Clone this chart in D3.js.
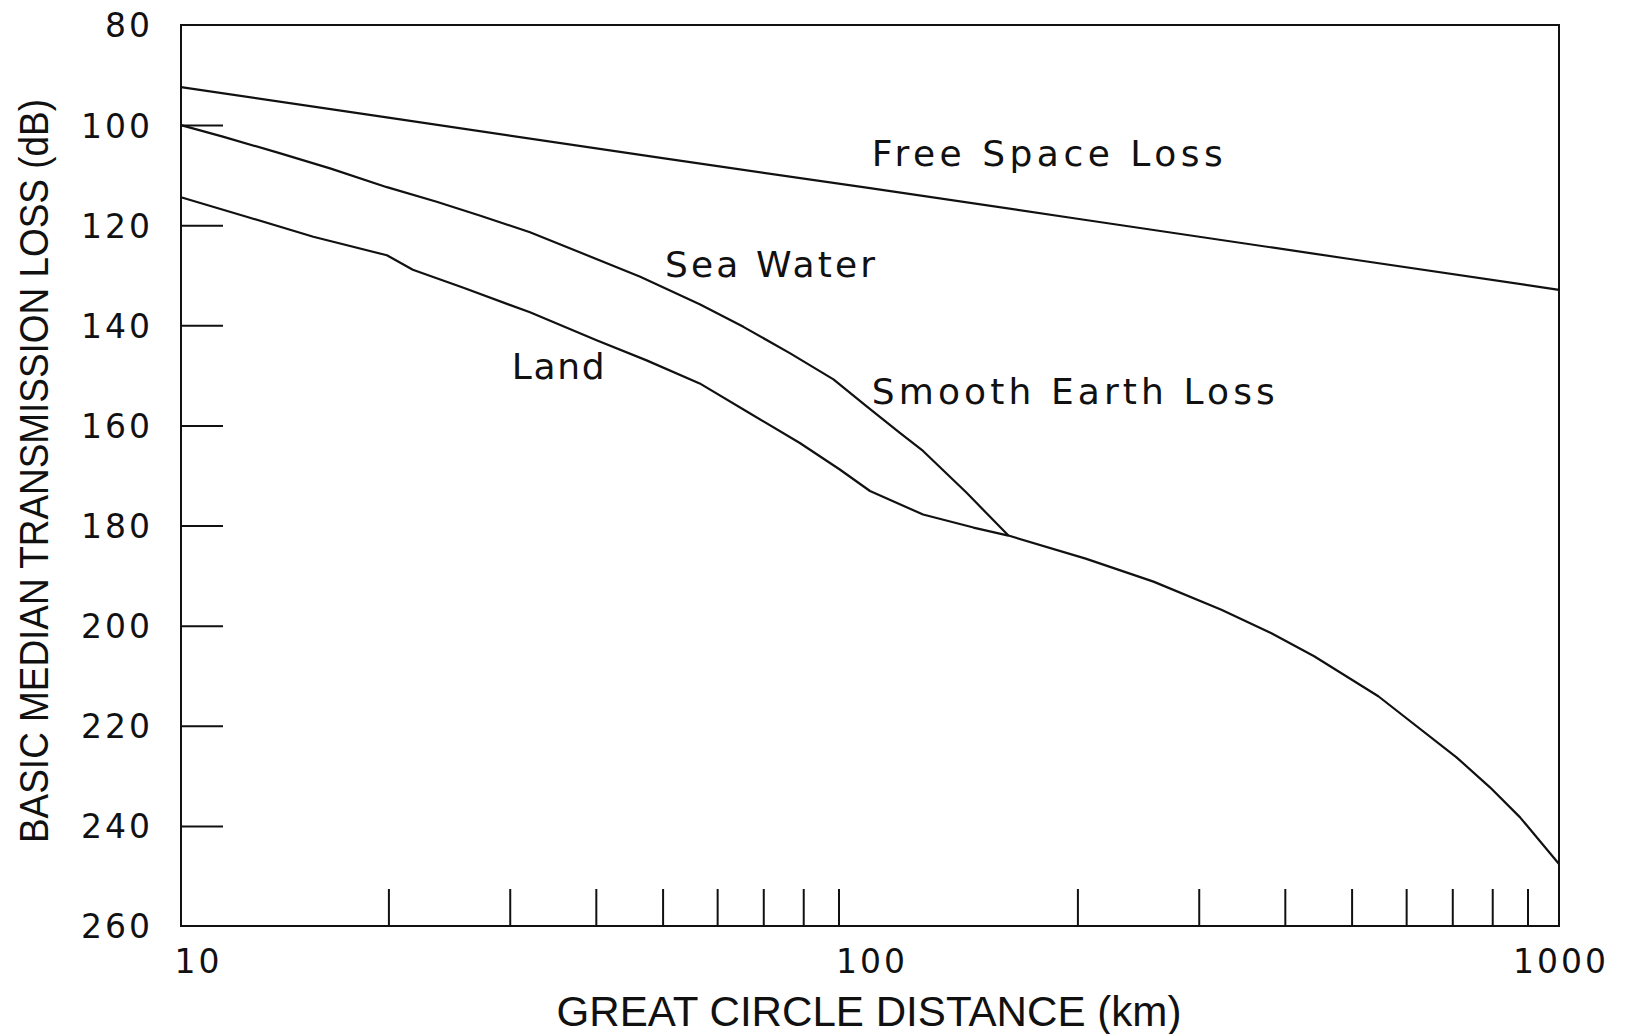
<!DOCTYPE html>
<html>
<head>
<meta charset="utf-8">
<script src="https://cdn.jsdelivr.net/npm/d3@7"></script>
<style>
  html, body { margin: 0; padding: 0; background: #fff; }
  svg { display: block; }
</style>
</head>
<body>
<svg id="chart" width="1626" height="1034"></svg>
<script>
// ---------------- data ----------------
const yTickValues = [80, 100, 120, 140, 160, 180, 200, 220, 240, 260];
const yInnerTicks = [100, 120, 140, 160, 180, 200, 220, 240];
const xLabelTicks = [10, 100, 1000];
const xMinorTicks = [20, 30, 40, 50, 60, 70, 80, 90, 200, 300, 400, 500, 600, 700, 800, 900];

const freeSpaceDist = [10, 20, 50, 100, 200, 500, 1000];
const freeSpaceLoss = [92.4, 98.5, 106.6, 112.6, 118.7, 126.8, 132.9];

const seaDist = [10, 11.5, 13.9, 16.5, 19.9, 23.5, 27.2, 32.1, 37.9, 46.4, 56.6, 65.5, 76.6, 88.5, 98.9, 110.5, 119.4, 138, 158.8];
const seaLoss = [100, 102.3, 105.6, 108.7, 112.4, 115.3, 118.1, 121.4, 125.4, 130.3, 135.8, 140.3, 145.6, 150.8, 156.2, 161.5, 165.1, 173.4, 182.0];

const landDist = [10, 12.45, 15.56, 19.9, 21.7, 25.7, 32.1, 40.1, 47.4, 56.6, 67, 79.1, 90.4, 100, 119.4, 141.3, 158.8, 205.6, 257.9, 323.6, 382.5, 441.2, 546.7, 710, 794, 878, 1000];
const landLoss = [114.4, 118.3, 122.3, 126.0, 128.9, 132.5, 137.4, 143.0, 147.0, 151.6, 157.6, 163.5, 168.8, 173.1, 177.8, 180.4, 182.0, 186.6, 191.2, 196.8, 201.5, 206.1, 214.1, 226.3, 232.3, 238.3, 247.6];

const curveLabels = ["Free Space Loss", "Sea Water", "Land", "Smooth Earth Loss"];
const curveLabelDist = [100.6, 50.4, 30.2, 100.6];
const curveLabelLoss = [108.2, 130.4, 150.75, 155.8];

const xTitle = "GREAT CIRCLE DISTANCE (km)";
const yTitle = "BASIC MEDIAN TRANSMISSION LOSS (dB)";

// ---------------- layout ----------------
const svg = d3.select("#chart");
const L = 181, R = 1559, T = 25, B = 926;

const x = d3.scaleLog().domain([10, 1000]).range([L, R]);
const y = d3.scaleLinear().domain([80, 260]).range([T, B]);

const ink = "#111";
const numFont = "DejaVu Sans, Verdana, sans-serif";

// frame
svg.append("rect")
  .attr("x", L).attr("y", T).attr("width", R - L).attr("height", B - T)
  .attr("fill", "none").attr("stroke", ink).attr("stroke-width", 2);

// y axis: ticks inward, labels outside
const yAxis = d3.axisLeft(y).tickValues(yTickValues).tickSize(0).tickPadding(0)
  .tickFormat(d3.format("d"));
const gy = svg.append("g").attr("transform", `translate(${L},0)`).call(yAxis);
gy.select(".domain").remove();
gy.selectAll("text")
  .attr("x", -28)
  .attr("dy", "0.36em")
  .attr("font-family", numFont).attr("font-size", 33)
  .attr("letter-spacing", 3)
  .attr("fill", ink);

const yTickAxis = d3.axisRight(y).tickValues(yInnerTicks).tickSize(42).tickFormat("");
const gyt = svg.append("g").attr("transform", `translate(${L},0)`).call(yTickAxis);
gyt.select(".domain").remove();
gyt.selectAll("line").attr("stroke", ink).attr("stroke-width", 2);

// x axis: labels
const xAxis = d3.axisBottom(x).tickValues(xLabelTicks).tickSize(0).tickPadding(0)
  .tickFormat(d3.format("d"));
const gx = svg.append("g").attr("transform", `translate(0,${B})`).call(xAxis);
gx.select(".domain").remove();
gx.selectAll("text")
  .attr("y", 47).attr("dy", 0)
  .attr("font-family", numFont).attr("font-size", 33)
  .attr("letter-spacing", 3)
  .attr("dx", (d, i) => (i === 0 ? 17 : 1.5))
  .attr("fill", ink);

// x axis minor ticks (upward)
const xTickAxis = d3.axisTop(x).tickValues(xMinorTicks).tickSize(37).tickFormat("");
const gxt = svg.append("g").attr("transform", `translate(0,${B})`).call(xTickAxis);
gxt.select(".domain").remove();
gxt.selectAll("line").attr("stroke", ink).attr("stroke-width", 2);

// curves
const line = d3.line().x(d => x(d[0])).y(d => y(d[1]));
const series = [
  d3.zip(freeSpaceDist, freeSpaceLoss),
  d3.zip(seaDist, seaLoss),
  d3.zip(landDist, landLoss)
];
svg.append("g").selectAll("path").data(series).join("path")
  .attr("d", line)
  .attr("fill", "none")
  .attr("stroke", ink)
  .attr("stroke-width", 2.2)
  .attr("stroke-linejoin", "round");

// curve labels
const labelLengths = [351, 210, 93, 403];
svg.append("g").selectAll("text").data(curveLabels).join("text")
  .attr("x", (d, i) => x(curveLabelDist[i]))
  .attr("y", (d, i) => y(curveLabelLoss[i]))
  .attr("font-family", numFont).attr("font-size", 36)
  .attr("textLength", (d, i) => labelLengths[i])
  .attr("lengthAdjust", "spacing")
  .attr("fill", ink)
  .text(d => d);

// axis titles
svg.append("text")
  .attr("x", 869).attr("y", 1026)
  .attr("text-anchor", "middle")
  .attr("font-family", "Liberation Sans, Arial, sans-serif")
  .attr("font-size", 43)
  .attr("textLength", 625).attr("lengthAdjust", "spacingAndGlyphs")
  .attr("fill", ink)
  .text(xTitle);

svg.append("text")
  .attr("transform", "translate(48,471) rotate(-90)")
  .attr("text-anchor", "middle")
  .attr("font-family", "Liberation Sans, Arial, sans-serif")
  .attr("font-size", 40)
  .attr("textLength", 744).attr("lengthAdjust", "spacingAndGlyphs")
  .attr("fill", ink)
  .text(yTitle);
</script>
</body>
</html>
